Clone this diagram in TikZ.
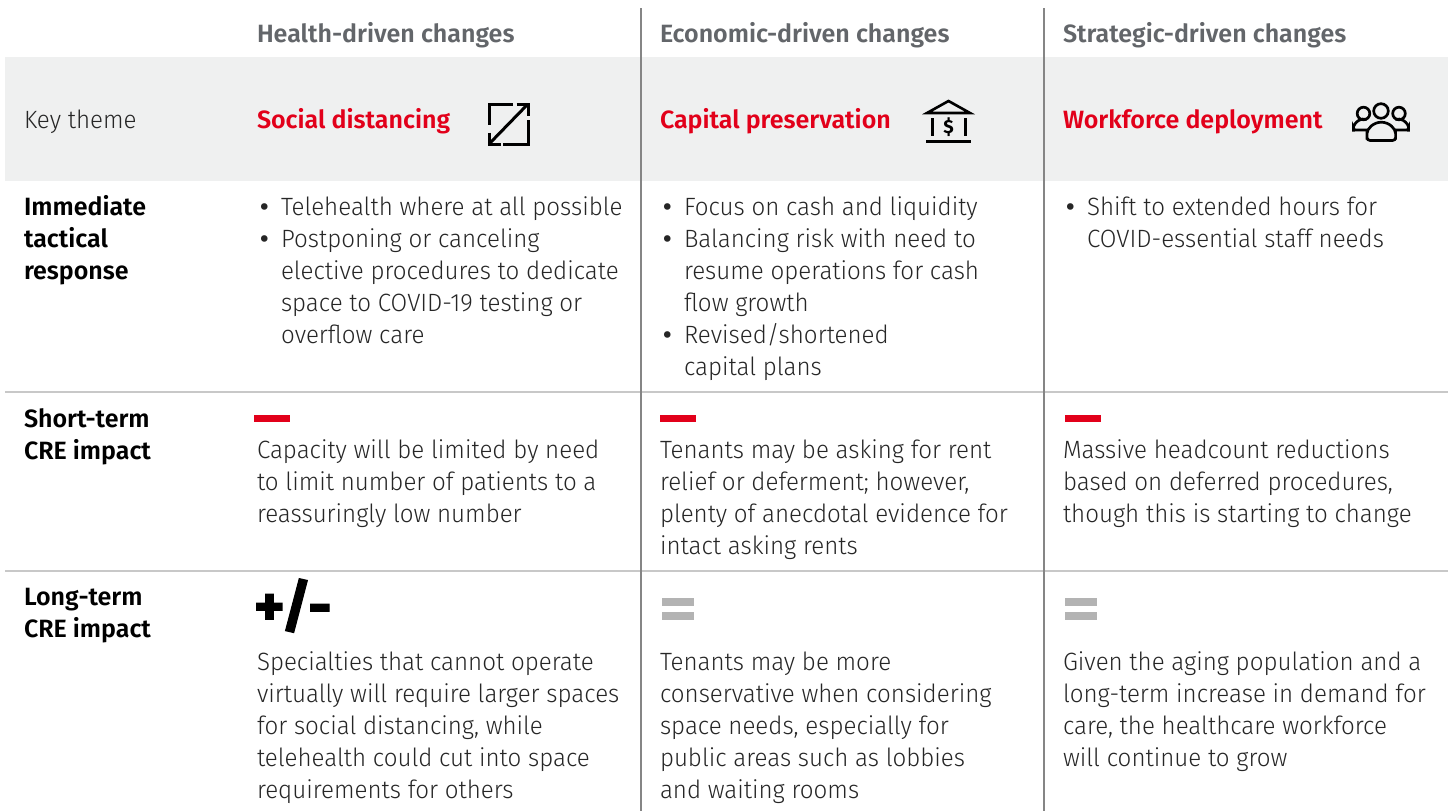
\documentclass[tikz,border=0pt]{standalone}
\usepackage{fontspec}
\setmainfont{Fira Sans Light}
\newfontfamily\lightf{Fira Sans Light}[FakeStretch=0.965]
\newfontfamily\semif{Fira Sans SemiBold}
\newfontfamily\boldf{Fira Sans Bold}
\IfFontExistsTF{Fira Sans Heavy}{\newfontfamily\heavyf{Fira Sans Heavy}}{\newfontfamily\heavyf{Fira Sans Bold}[FakeBold=2]}
\definecolor{hdrgray}{HTML}{63666A}
\definecolor{redc}{HTML}{E2001A}
\definecolor{txt}{HTML}{262626}
\definecolor{band}{HTML}{EFF0F0}
\definecolor{vline}{HTML}{858585}
\definecolor{hline}{HTML}{C8C8C8}
\definecolor{eqg}{HTML}{B3B3B3}
\newcommand\bodyfont{\lightf\fontsize{25}{32}\selectfont}
\newcommand\bul[1]{\par\hangindent=24pt\hangafter=1\noindent\makebox[24pt][l]{\kern3pt{\semif\fontsize{25}{32}\selectfont •}}{\let\\\newline #1}}
\newcommand\celltext[1]{\parbox[t]{420pt}{\raggedright\bodyfont #1}}
\tikzset{
  cell/.style={anchor=base west, inner sep=0pt, outer sep=0pt, text=txt},
  hdr/.style={cell, font=\semif\fontsize{25}{32}\selectfont, text=hdrgray},
  theme/.style={cell, font=\semif\fontsize{25}{32}\selectfont, text=redc},
  rowlab/.style={cell, text=black},
  icon/.style={line width=3pt, line cap=butt, line join=miter, black},
  person/.style={line width=2.7pt, black},
}
\begin{document}
\begin{tikzpicture}[x=1pt,y=-1pt]
\useasboundingbox (0,0) rectangle (1448,811);
\fill[white] (0,0) rectangle (1448,811);
% band
\fill[band] (5,57) rectangle (1448,181);
% horizontal rules
\draw[hline, line width=2pt] (5,391.5) -- (1448,391.5);
\draw[hline, line width=2pt] (5,571) -- (1448,571);
% vertical rules
\draw[vline, line width=1.5pt] (641,8) -- (641,811);
\draw[vline, line width=1.5pt] (1044,8) -- (1044,811);

% headers
\node[hdr] (h1) at (257,42) {Health-driven changes};
\node[hdr] (h2) at (660,42) {Economic-driven changes};
\node[hdr] (h3) at (1063,42) {Strategic-driven changes};

% key theme row
\node[cell, font=\lightf\fontsize{25}{32}\selectfont] (kt) at (24,128) {Key theme};
\node[theme] (t1) at (257,128) {Social distancing};
\node[theme] (t2) at (660,128) {Capital preservation};
\node[theme] (t3) at (1063,128) {Workforce deployment};

% icon 1: resize arrow
\draw[icon] (513,104) -- (489,104) -- (489,125);
\draw[icon] (503,144) -- (528,144) -- (528,120);
\draw[icon] (516.5,104) -- (528,104) -- (528,115.5);
\draw[icon] (489,132.5) -- (489,144) -- (500.5,144);
\draw[icon] (490.5,142.5) -- (526.5,105.5);

% icon 2: bank
\draw[line width=2.6pt, line join=miter] (927,113) -- (948.5,101) -- (970,113) -- cycle;
\draw[icon] (932,118) -- (932,135.5);
\draw[icon] (965.5,118) -- (965.5,135.5);
\node[inner sep=0pt] (dol) at (948.5,127) {\boldf\fontsize{19}{19}\selectfont \$};
\draw[line width=3.4pt] (926,141.5) -- (971,141.5);

% icon 3: people
\draw[person] (1363.5,113.5) circle (6.3);
\draw[person] (1399,113.5) circle (6.3);
\draw[person, rounded corners=2pt] (1368,130) -- (1353.5,130) -- (1353.5,129.5) arc (180:285:10.5);
\draw[person, rounded corners=2pt] (1394,130) -- (1408.5,130) -- (1408.5,129.5) arc (360:255:10.5);
\draw[person, fill=band, rounded corners=3pt] (1367,140.5) -- (1367,136.5) arc (180:360:14.3) -- (1395.6,140.5) -- cycle;
\draw[person, fill=band] (1381,111) circle (7.3);

% row labels
\node[rowlab] (r1) at (24,215) {\parbox[t]{200pt}{\semif\fontsize{25}{32}\selectfont Immediate\\tactical\\response}};
\node[rowlab] (r2) at (24,427) {\parbox[t]{200pt}{\semif\fontsize{25}{32}\selectfont Short-term\\CRE impact}};
\node[rowlab] (r3) at (24,605) {\parbox[t]{200pt}{\semif\fontsize{25}{32}\selectfont Long-term\\CRE impact}};

% row 1 cells
\node[cell] (c11) at (257,215) {\celltext{\bul{Telehealth where at all possible}\bul{Postponing or canceling\\elective procedures to dedicate\\space to COVID-19 testing or\\overflow care}}};
\node[cell] (c12) at (660,215) {\celltext{\bul{Focus on cash and liquidity}\bul{Balancing risk with need to\\resume operations for cash\\flow growth}\bul{Revised/shortened\\capital plans}}};
\node[cell] (c13) at (1063,215) {\celltext{\bul{Shift to extended hours for\\COVID-essential staff needs}}};

% row 2 markers
\fill[redc] (254,415) rectangle (290,422);
\fill[redc] (660,415) rectangle (696,422);
\fill[redc] (1065,415) rectangle (1101,422);

% row 2 cells
\node[cell] (c21) at (257,458) {\celltext{Capacity will be limited by need\\to limit number of patients to a\\reassuringly low number}};
\node[cell] (c22) at (660,458) {\celltext{Tenants may be asking for rent\\relief or deferment; however,\\plenty of anecdotal evidence for\\intact asking rents}};
\node[cell] (c23) at (1063,458) {\celltext{Massive headcount reductions\\based on deferred procedures,\\though this is starting to change}};

% row 3 markers
\node[cell, text=black] (pm) at (254,626) {\heavyf\fontsize{58}{58}\selectfont +/-};
\fill[eqg] (662,598) rectangle (694,606);
\fill[eqg] (662,612) rectangle (694,620);
\fill[eqg] (1065,598) rectangle (1097,606);
\fill[eqg] (1065,612) rectangle (1097,620);

% row 3 cells
\node[cell] (c31) at (257,670) {\celltext{Specialties that cannot operate\\virtually will require larger spaces\\for social distancing, while\\telehealth could cut into space\\requirements for others}};
\node[cell] (c32) at (660,670) {\celltext{Tenants may be more\\conservative when considering\\space needs, especially for\\public areas such as lobbies\\and waiting rooms}};
\node[cell] (c33) at (1063,670) {\celltext{Given the aging population and a\\long-term increase in demand for\\care, the healthcare workforce\\will continue to grow}};
\end{tikzpicture}
\end{document}
